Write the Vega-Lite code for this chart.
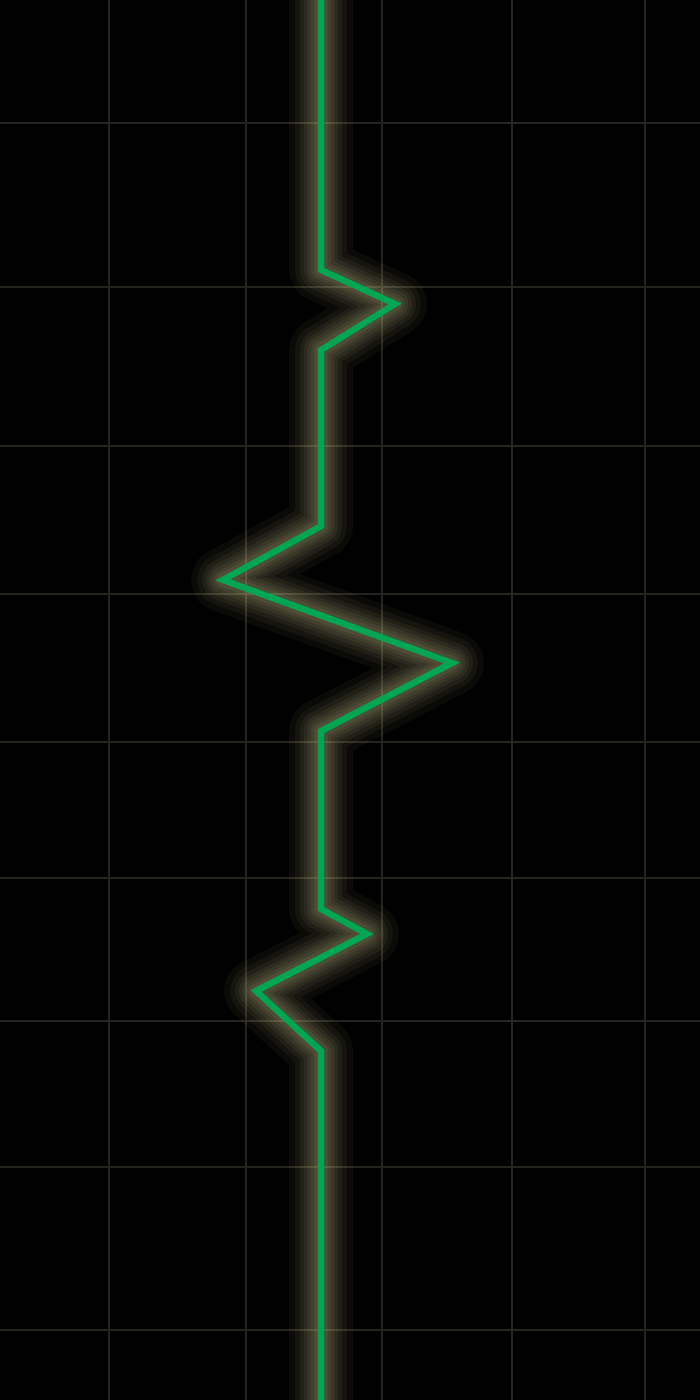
{
  "$schema": "https://vega.github.io/schema/vega-lite/v6.json",
  "autosize": {"type": "none"},
  "width": 700,
  "height": 1400,
  "padding": 0,
  "background": "#000000",
  "config": {"view": {"stroke": null}},
  "datasets": {
    "trace": [
      {"i": 0, "x": 321, "y": 0},
      {"i": 1, "x": 321, "y": 270},
      {"i": 2, "x": 395, "y": 304},
      {"i": 3, "x": 321, "y": 350},
      {"i": 4, "x": 321, "y": 526},
      {"i": 5, "x": 223, "y": 580},
      {"i": 6, "x": 452, "y": 663},
      {"i": 7, "x": 321, "y": 731},
      {"i": 8, "x": 321, "y": 909},
      {"i": 9, "x": 367, "y": 934},
      {"i": 10, "x": 256, "y": 991},
      {"i": 11, "x": 321, "y": 1051},
      {"i": 12, "x": 321, "y": 1400}
    ],
    "glow": [
      {"w": 64}, {"w": 54}, {"w": 45}, {"w": 37}, {"w": 30}, {"w": 23}, {"w": 16}, {"w": 10}
    ],
    "vgrid": [{"x": 109}, {"x": 246}, {"x": 382}, {"x": 512}, {"x": 645}],
    "hgrid": [
      {"y": 123}, {"y": 287}, {"y": 446}, {"y": 594}, {"y": 742},
      {"y": 878}, {"y": 1021}, {"y": 1167}, {"y": 1330}
    ]
  },
  "layer": [
    {
      "data": {"name": "vgrid"},
      "mark": {"type": "rule", "color": "#24241c", "strokeWidth": 2},
      "encoding": {
        "x": {"field": "x", "type": "quantitative", "scale": {"domain": [0, 700]}, "axis": null}
      }
    },
    {
      "data": {"name": "hgrid"},
      "mark": {"type": "rule", "color": "#24241c", "strokeWidth": 2},
      "encoding": {
        "y": {"field": "y", "type": "quantitative", "scale": {"domain": [0, 1400], "reverse": true}, "axis": null}
      }
    },
    {
      "data": {"name": "trace"},
      "mark": {"type": "line", "color": "#c8c090", "strokeWidth": 64, "opacity": 0.05, "strokeJoin": "round", "strokeCap": "round", "clip": true},
      "encoding": {
        "x": {"field": "x", "type": "quantitative", "scale": {"domain": [0, 700]}, "axis": null},
        "y": {"field": "y", "type": "quantitative", "scale": {"domain": [0, 1400], "reverse": true}, "axis": null},
        "order": {"field": "i"}
      }
    },
    {
      "data": {"name": "trace"},
      "mark": {"type": "line", "color": "#c8c090", "strokeWidth": 52, "opacity": 0.06, "strokeJoin": "round", "strokeCap": "round", "clip": true},
      "encoding": {
        "x": {"field": "x", "type": "quantitative", "scale": {"domain": [0, 700]}, "axis": null},
        "y": {"field": "y", "type": "quantitative", "scale": {"domain": [0, 1400], "reverse": true}, "axis": null},
        "order": {"field": "i"}
      }
    },
    {
      "data": {"name": "trace"},
      "mark": {"type": "line", "color": "#c8c090", "strokeWidth": 42, "opacity": 0.07, "strokeJoin": "round", "strokeCap": "round", "clip": true},
      "encoding": {
        "x": {"field": "x", "type": "quantitative", "scale": {"domain": [0, 700]}, "axis": null},
        "y": {"field": "y", "type": "quantitative", "scale": {"domain": [0, 1400], "reverse": true}, "axis": null},
        "order": {"field": "i"}
      }
    },
    {
      "data": {"name": "trace"},
      "mark": {"type": "line", "color": "#c8c090", "strokeWidth": 34, "opacity": 0.07, "strokeJoin": "round", "strokeCap": "round", "clip": true},
      "encoding": {
        "x": {"field": "x", "type": "quantitative", "scale": {"domain": [0, 700]}, "axis": null},
        "y": {"field": "y", "type": "quantitative", "scale": {"domain": [0, 1400], "reverse": true}, "axis": null},
        "order": {"field": "i"}
      }
    },
    {
      "data": {"name": "trace"},
      "mark": {"type": "line", "color": "#c8c090", "strokeWidth": 27, "opacity": 0.08, "strokeJoin": "round", "strokeCap": "round", "clip": true},
      "encoding": {
        "x": {"field": "x", "type": "quantitative", "scale": {"domain": [0, 700]}, "axis": null},
        "y": {"field": "y", "type": "quantitative", "scale": {"domain": [0, 1400], "reverse": true}, "axis": null},
        "order": {"field": "i"}
      }
    },
    {
      "data": {"name": "trace"},
      "mark": {"type": "line", "color": "#c8c090", "strokeWidth": 20, "opacity": 0.08, "strokeJoin": "round", "strokeCap": "round", "clip": true},
      "encoding": {
        "x": {"field": "x", "type": "quantitative", "scale": {"domain": [0, 700]}, "axis": null},
        "y": {"field": "y", "type": "quantitative", "scale": {"domain": [0, 1400], "reverse": true}, "axis": null},
        "order": {"field": "i"}
      }
    },
    {
      "data": {"name": "trace"},
      "mark": {"type": "line", "color": "#c8c090", "strokeWidth": 14, "opacity": 0.09, "strokeJoin": "round", "strokeCap": "round", "clip": true},
      "encoding": {
        "x": {"field": "x", "type": "quantitative", "scale": {"domain": [0, 700]}, "axis": null},
        "y": {"field": "y", "type": "quantitative", "scale": {"domain": [0, 1400], "reverse": true}, "axis": null},
        "order": {"field": "i"}
      }
    },
    {
      "data": {"name": "trace"},
      "mark": {"type": "line", "color": "#00a651", "strokeWidth": 6.5, "strokeJoin": "miter", "clip": true},
      "encoding": {
        "x": {"field": "x", "type": "quantitative", "scale": {"domain": [0, 700]}, "axis": null},
        "y": {"field": "y", "type": "quantitative", "scale": {"domain": [0, 1400], "reverse": true}, "axis": null},
        "order": {"field": "i"}
      }
    }
  ]
}
